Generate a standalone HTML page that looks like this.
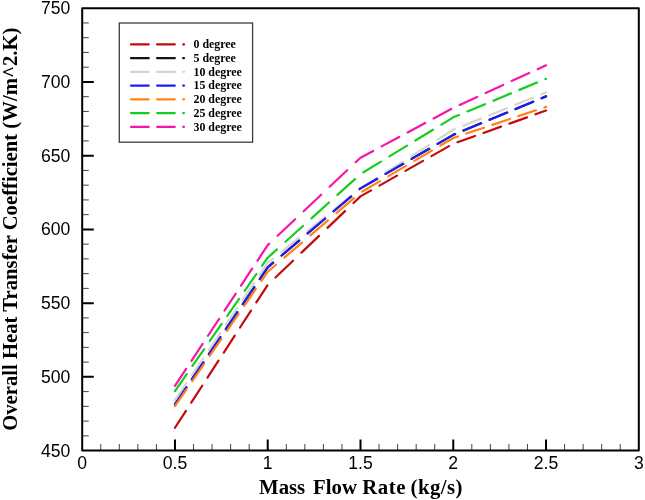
<!DOCTYPE html><html><head><meta charset="utf-8"><style>
html,body{margin:0;padding:0;background:#fff;width:645px;height:500px;overflow:hidden}
svg{display:block}
.t{font-family:"Liberation Sans",sans-serif;font-size:17.6px;fill:#000}
.s{font-family:"Liberation Serif",serif;font-weight:bold;fill:#000}
</style></head><body>
<svg width="645" height="500" viewBox="0 0 645 500" style="will-change:transform;filter:blur(0.35px)">
<path d="M174.97 427.74L185.95 410.83M191.24 402.68L202.22 385.77M207.50 377.62L218.49 360.71M223.77 352.56L234.75 335.65M240.04 327.50L251.02 310.59M256.31 302.44L267.29 285.53M275.48 277.46L293.03 260.72M301.48 252.66L319.03 235.92M327.48 227.86L345.03 211.12M353.48 203.06L360.50 196.37L371.03 190.39M379.48 185.60L397.03 175.64M405.48 170.84L423.03 160.88M431.48 156.09L449.03 146.13M457.48 142.22L475.03 135.94M483.48 132.92L501.03 126.64M509.48 123.62L527.03 117.34M535.48 114.32L546.03 110.54" fill="none" stroke="#c40a0a" stroke-width="2.2" stroke-linecap="round" stroke-linejoin="round"/>
<path d="M174.97 404.30L186.42 387.38M191.94 379.24L203.39 362.32M208.91 354.18L220.36 337.26M225.87 329.12L237.33 312.20M242.84 304.06L254.30 287.14M259.81 279.00L267.73 267.30L273.15 262.69M281.60 255.51L299.15 240.58M307.60 233.40L325.15 218.47M333.60 211.28L351.15 196.36M359.60 189.17L360.50 188.40L377.15 178.80M385.60 173.92L403.15 163.79M411.60 158.92L429.15 148.79M437.60 143.92L453.27 134.87L455.15 134.09M463.60 130.59L481.15 123.31M489.60 119.80L507.15 112.52M515.60 109.01L533.15 101.73M541.60 98.23L546.03 96.39" fill="none" stroke="#141414" stroke-width="2.2" stroke-linecap="round" stroke-linejoin="round"/>
<path d="M174.97 400.17L186.40 383.25M191.90 375.11L203.33 358.19M208.83 350.05L220.26 333.13M225.77 324.99L237.19 308.07M242.70 299.93L254.13 283.01M259.63 274.87L267.73 262.87L272.84 258.77M281.29 251.99L298.84 237.90M307.29 231.12L324.84 217.03M333.29 210.25L350.84 196.16M359.29 189.37L360.50 188.40L376.84 178.06M385.29 172.72L402.84 161.62M411.29 156.27L428.84 145.17M437.29 139.82L453.27 129.71L454.84 129.08M463.29 125.68L480.84 118.62M489.29 115.22L506.84 108.17M515.29 104.77L532.84 97.71M541.29 94.31L546.03 92.40" fill="none" stroke="#d4d4d4" stroke-width="2.2" stroke-linecap="round" stroke-linejoin="round"/>
<path d="M174.97 404.30L186.42 387.38M191.94 379.24L203.39 362.32M208.91 354.18L220.36 337.26M225.87 329.12L237.33 312.20M242.84 304.06L254.30 287.14M259.81 279.00L267.73 267.30L273.15 262.69M281.60 255.51L299.15 240.58M307.60 233.40L325.15 218.47M333.60 211.28L351.15 196.36M359.60 189.17L360.50 188.40L377.15 178.80M385.60 173.92L403.15 163.79M411.60 158.92L429.15 148.79M437.60 143.92L453.27 134.87L455.15 134.09M463.60 130.59L481.15 123.31M489.60 119.80L507.15 112.52M515.60 109.01L533.15 101.73M541.60 98.23L546.03 96.39" fill="none" stroke="#1c1cf5" stroke-width="2.2" stroke-linecap="round" stroke-linejoin="round"/>
<path d="M174.97 406.07L186.65 389.15M192.27 381.01L203.95 364.09M209.58 355.95L221.26 339.03M226.88 330.89L238.56 313.97M244.18 305.83L255.87 288.91M261.49 280.77L267.73 271.72L275.90 264.75M284.35 257.54L301.90 242.56M310.35 235.34L327.90 220.36M336.35 213.15L353.90 198.17M362.35 191.44L379.90 181.12M388.35 176.15L405.90 165.83M414.35 160.86L431.90 150.54M440.35 145.57L453.27 137.97L457.90 136.42M466.35 133.58L483.90 127.70M492.35 124.86L509.90 118.97M518.35 116.14L535.90 110.25M544.35 107.42L546.03 106.86" fill="none" stroke="#ff8214" stroke-width="2.2" stroke-linecap="round" stroke-linejoin="round"/>
<path d="M174.97 391.02L186.74 374.11M192.41 365.96L204.18 349.05M209.84 340.90L221.61 323.99M227.28 315.84L239.05 298.93M244.72 290.78L256.49 273.87M262.16 265.72L267.73 257.71L276.97 249.39M285.42 241.77L302.97 225.95M311.42 218.33L328.97 202.52M337.42 194.90L354.97 179.08M363.42 172.31L380.97 161.57M389.42 156.40L406.97 145.66M415.42 140.49L432.97 129.75M441.42 124.57L453.27 117.33L458.97 114.96M467.42 111.45L484.97 104.17M493.42 100.66L510.97 93.38M519.42 89.88L536.97 82.60M545.42 79.09L546.03 78.84" fill="none" stroke="#16cc1e" stroke-width="2.2" stroke-linecap="round" stroke-linejoin="round"/>
<path d="M174.97 385.86L186.11 368.95M191.47 360.80L202.62 343.89M207.98 335.74L219.12 318.83M224.49 310.68L235.63 293.77M241.00 285.62L252.14 268.71M257.50 260.56L267.73 245.03L269.17 243.68M277.62 235.73L295.17 219.21M303.62 211.26L321.17 194.74M329.62 186.79L347.17 170.28M355.62 162.32L360.50 157.73L373.17 150.92M381.62 146.38L399.17 136.95M407.62 132.41L425.17 122.98M433.62 118.44L451.17 109.01M459.62 104.97L477.17 96.91M485.62 93.02L503.17 84.96M511.62 81.08L529.17 73.02M537.62 69.13L546.03 65.27" fill="none" stroke="#f516a8" stroke-width="2.2" stroke-linecap="round" stroke-linejoin="round"/>
<path d="M100.75 450.60V444.00M119.31 450.60V444.00M137.86 450.60V444.00M156.41 450.60V444.00M193.52 450.60V444.00M212.07 450.60V444.00M230.63 450.60V444.00M249.18 450.60V444.00M286.29 450.60V444.00M304.84 450.60V444.00M323.39 450.60V444.00M341.95 450.60V444.00M379.05 450.60V444.00M397.61 450.60V444.00M416.16 450.60V444.00M434.71 450.60V444.00M471.82 450.60V444.00M490.37 450.60V444.00M508.93 450.60V444.00M527.48 450.60V444.00M564.59 450.60V444.00M583.14 450.60V444.00M601.69 450.60V444.00M620.25 450.60V444.00M82.20 435.85H88.80M82.20 421.11H88.80M82.20 406.36H88.80M82.20 391.61H88.80M82.20 362.12H88.80M82.20 347.37H88.80M82.20 332.63H88.80M82.20 317.88H88.80M82.20 288.39H88.80M82.20 273.64H88.80M82.20 258.89H88.80M82.20 244.15H88.80M82.20 214.65H88.80M82.20 199.91H88.80M82.20 185.16H88.80M82.20 170.41H88.80M82.20 140.92H88.80M82.20 126.17H88.80M82.20 111.43H88.80M82.20 96.68H88.80M82.20 67.19H88.80M82.20 52.44H88.80M82.20 37.69H88.80M82.20 22.95H88.80" stroke="#444" stroke-width="1" fill="none"/>
<path d="M174.97 450.60V439.40M267.73 450.60V439.40M360.50 450.60V439.40M453.27 450.60V439.40M546.03 450.60V439.40M82.20 376.87H93.80M82.20 303.13H93.80M82.20 229.40H93.80M82.20 155.67H93.80M82.20 81.93H93.80" stroke="#000" stroke-width="2" fill="none"/>
<rect x="82.2" y="8.2" width="556.60" height="442.40" fill="none" stroke="#000" stroke-width="2" stroke-linejoin="round"/>
<text class="t" x="82.20" y="468.5" text-anchor="middle">0</text>
<text class="t" x="174.97" y="468.5" text-anchor="middle">0.5</text>
<text class="t" x="267.73" y="468.5" text-anchor="middle">1</text>
<text class="t" x="360.50" y="468.5" text-anchor="middle">1.5</text>
<text class="t" x="453.27" y="468.5" text-anchor="middle">2</text>
<text class="t" x="546.03" y="468.5" text-anchor="middle">2.5</text>
<text class="t" x="638.80" y="468.5" text-anchor="middle">3</text>
<text class="t" x="70.4" y="456.60" text-anchor="end">450</text>
<text class="t" x="70.4" y="382.87" text-anchor="end">500</text>
<text class="t" x="70.4" y="309.13" text-anchor="end">550</text>
<text class="t" x="70.4" y="235.40" text-anchor="end">600</text>
<text class="t" x="70.4" y="161.67" text-anchor="end">650</text>
<text class="t" x="70.4" y="87.93" text-anchor="end">700</text>
<text class="t" x="70.4" y="14.20" text-anchor="end">750</text>
<text class="s" y="494" font-size="20.8"><tspan x="259">Mass</tspan> <tspan x="313">Flow</tspan> <tspan x="362.3" letter-spacing="0.5">Rate</tspan> <tspan x="410.6" letter-spacing="0.45">(kg/s)</tspan></text>
<text class="s" transform="translate(17.2,229.2) rotate(-90)" text-anchor="middle" font-size="20.7">Overall Heat Transfer Coefficient (W/m^2.K)</text>
<rect x="119.3" y="23" width="133.3" height="119.2" fill="#fff" stroke="#3c3c3c" stroke-width="1.3"/>
<line x1="131" y1="44.40" x2="184" y2="44.40" stroke="#c40a0a" stroke-width="2.2" stroke-dasharray="17.7 8.4" stroke-linecap="round"/>
<text class="s" x="193.5" y="48.20" font-size="11.9">0 degree</text>
<line x1="131" y1="58.13" x2="184" y2="58.13" stroke="#141414" stroke-width="2.2" stroke-dasharray="17.7 8.4" stroke-linecap="round"/>
<text class="s" x="193.5" y="61.93" font-size="11.9">5 degree</text>
<line x1="131" y1="71.86" x2="184" y2="71.86" stroke="#d4d4d4" stroke-width="2.2" stroke-dasharray="17.7 8.4" stroke-linecap="round"/>
<text class="s" x="193.5" y="75.66" font-size="11.9">10 degree</text>
<line x1="131" y1="85.59" x2="184" y2="85.59" stroke="#1c1cf5" stroke-width="2.2" stroke-dasharray="17.7 8.4" stroke-linecap="round"/>
<text class="s" x="193.5" y="89.39" font-size="11.9">15 degree</text>
<line x1="131" y1="99.32" x2="184" y2="99.32" stroke="#ff8214" stroke-width="2.2" stroke-dasharray="17.7 8.4" stroke-linecap="round"/>
<text class="s" x="193.5" y="103.12" font-size="11.9">20 degree</text>
<line x1="131" y1="113.05" x2="184" y2="113.05" stroke="#16cc1e" stroke-width="2.2" stroke-dasharray="17.7 8.4" stroke-linecap="round"/>
<text class="s" x="193.5" y="116.85" font-size="11.9">25 degree</text>
<line x1="131" y1="126.78" x2="184" y2="126.78" stroke="#f516a8" stroke-width="2.2" stroke-dasharray="17.7 8.4" stroke-linecap="round"/>
<text class="s" x="193.5" y="130.58" font-size="11.9">30 degree</text>
</svg></body></html>
